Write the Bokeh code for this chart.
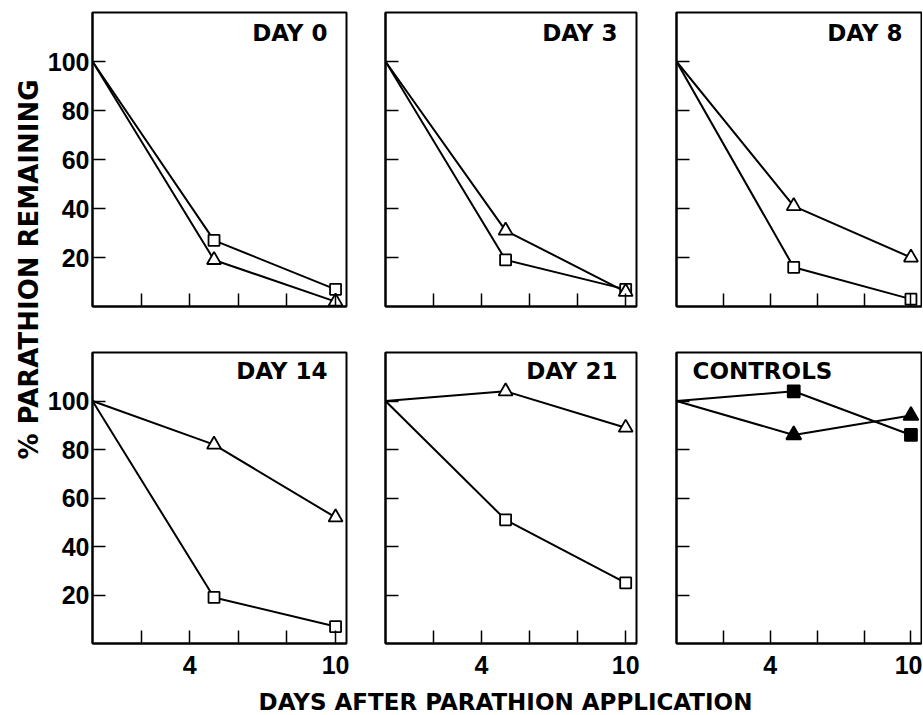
import math
from bokeh.plotting import figure
from bokeh.layouts import column, row
from bokeh.models import Range1d, FixedTicker
from bokeh.core.properties import value
from bokeh.embed import file_html
from bokeh.resources import INLINE

# ---------------- data ----------------
days = [0, 5, 10]
panel_titles = ["DAY 0", "DAY 3", "DAY 8", "DAY 14", "DAY 21", "CONTROLS"]

day0_square = [100, 27, 7]
day0_triangle = [100, 19, 2]
day3_square = [100, 19, 7]
day3_triangle = [100, 31, 6]
day8_square = [100, 16, 3]
day8_triangle = [100, 41, 20]
day14_square = [100, 19, 7]
day14_triangle = [100, 82, 52]
day21_square = [100, 51, 25]
day21_triangle = [100, 104, 89]
controls_square = [100, 104, 86]
controls_triangle = [100, 86, 94]

x_ticks = [2, 4, 6, 8, 10]
x_labeled_ticks = [4, 10]
y_ticks = [20, 40, 60, 80, 100]
y_axis_title = "% PARATHION REMAINING"
x_axis_title = "DAYS AFTER PARATHION APPLICATION"

squares = [day0_square, day3_square, day8_square, day14_square, day21_square, controls_square]
triangles = [day0_triangle, day3_triangle, day8_triangle, day14_triangle, day21_triangle, controls_triangle]
filled = [False, False, False, False, False, True]

# ---------------- layout ----------------
X_MAX = 10.45
Y_MAX = 120
frame_w = [254, 251, 245]
frame_h = [294, 291]
border_l = [49, 20, 20]
border_r = [19, 20, 1]
border_t = [12, 23]
border_b = [23, 42]
title_dy = [20, 18.5]

TICK_FONT = "Liberation Sans"
TITLE_FONT = value("DejaVu Sans")


def style_axis(ax):
    ax.axis_line_width = 2
    ax.axis_line_color = "black"
    ax.major_tick_in = 13
    ax.major_tick_out = 0
    ax.major_tick_line_width = 1.5
    ax.major_tick_line_color = "black"
    ax.minor_tick_in = 13
    ax.minor_tick_out = 0
    ax.minor_tick_line_width = 1.5
    ax.minor_tick_line_color = "black"
    ax.major_label_text_font = TICK_FONT
    ax.major_label_text_font_style = "bold"
    ax.major_label_text_color = "black"
    ax.major_label_text_font_size = "25px"


def make_panel(i):
    r, c = divmod(i, 3)
    p = figure(frame_width=frame_w[c], frame_height=frame_h[r],
               min_border_left=border_l[c], min_border_right=border_r[c],
               min_border_top=border_t[r], min_border_bottom=border_b[r],
               x_range=Range1d(0, X_MAX), y_range=Range1d(0, Y_MAX),
               output_backend="svg", toolbar_location=None, tools="")
    p.grid.visible = False
    p.outline_line_color = "black"
    p.outline_line_width = 2
    p.background_fill_color = "white"
    p.border_fill_color = "white"
    style_axis(p.xaxis[0])
    style_axis(p.yaxis[0])

    if r == 1:
        p.xaxis.ticker = FixedTicker(ticks=x_labeled_ticks,
                                     minor_ticks=[t for t in x_ticks if t not in x_labeled_ticks])
        p.xaxis.major_label_standoff = 12
    else:
        p.xaxis.ticker = FixedTicker(ticks=[], minor_ticks=x_ticks)
        p.xaxis.major_label_standoff = 0
    if c == 0:
        p.yaxis.ticker = FixedTicker(ticks=y_ticks, minor_ticks=[])
        p.yaxis.major_label_standoff = 3
    else:
        p.yaxis.ticker = FixedTicker(ticks=[], minor_ticks=y_ticks)
        p.yaxis.major_label_standoff = 0

    sq = squares[i]
    tr = triangles[i]
    fill = "black" if filled[i] else "white"
    p.line(days, sq, line_color="black", line_width=2)
    p.line(days, tr, line_color="black", line_width=2)
    p.scatter(days[1:], sq[1:], marker="square", size=12 if filled[i] else 11,
              fill_color=fill, line_color="black", line_width=1.8)
    p.scatter(days[1:], tr[1:], marker="triangle", size=15 if filled[i] else 14,
              fill_color=fill, line_color="black", line_width=1.8)

    if panel_titles[i] == "CONTROLS":
        p.text(x=[p.x_range.start], y=[p.y_range.end], text=[panel_titles[i]],
               text_align="left", text_baseline="middle", x_offset=16, y_offset=title_dy[r],
               text_font=TITLE_FONT, text_font_style="bold", text_font_size="23px",
               text_color="black")
    else:
        p.text(x=[p.x_range.end], y=[p.y_range.end], text=[panel_titles[i]],
               text_align="right", text_baseline="middle", x_offset=-19, y_offset=title_dy[r],
               text_font=TITLE_FONT, text_font_style="bold", text_font_size="23px",
               text_color="black")
    return p


panels = [make_panel(i) for i in range(6)]

grid_h = sum(frame_h) + sum(border_t) + sum(border_b)
ytitle_w = 43
ytitle_fig = figure(width=ytitle_w, height=grid_h, x_range=Range1d(0, ytitle_w),
                    y_range=Range1d(0, grid_h), x_axis_type=None, y_axis_type=None,
                    min_border=0, outline_line_color=None, output_backend="svg",
                    toolbar_location=None, tools="")
ytitle_fig.text(x=[28.5], y=[grid_h - 269], text=[y_axis_title], angle=math.pi / 2,
                text_align="center", text_baseline="middle",
                text_font=TITLE_FONT, text_font_style="bold", text_font_size="26px",
                text_color="black")

total_w = ytitle_w + sum(frame_w) + sum(border_l) + sum(border_r)
xtitle_h = 715 - grid_h
xtitle_fig = figure(width=total_w, height=xtitle_h, x_range=Range1d(0, total_w),
                    y_range=Range1d(0, xtitle_h), x_axis_type=None, y_axis_type=None,
                    min_border=0, outline_line_color=None, output_backend="svg",
                    toolbar_location=None, tools="")
xtitle_fig.text(x=[505], y=[14], text=[x_axis_title], text_align="center",
                text_baseline="middle", text_font=TITLE_FONT, text_font_style="bold",
                text_font_size="23px", text_color="black")

layout = column(
    row(ytitle_fig, column(row(*panels[:3]), row(*panels[3:]))),
    xtitle_fig,
)

open("out.html", "w").write(file_html(layout, INLINE))
